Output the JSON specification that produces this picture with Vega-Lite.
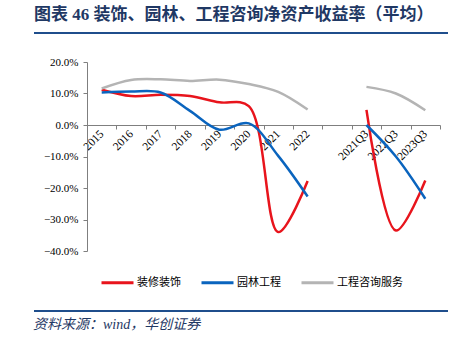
{
  "$schema": "https://vega.github.io/schema/vega-lite/v6.json",
  "padding": {"top": 6, "left": 29, "right": 8, "bottom": 2},
  "background": "white",
  "title": {"text": "图表 46 装饰、园林、工程咨询净资产收益率（平均）", "anchor": "start", "frame": "group", "fontSize": 17, "fontWeight": "bold", "color": "#1F3864", "font": "Liberation Serif, Noto Sans CJK SC", "offset": 8},
  "bounds": "flush",
  "spacing": 29,
  "config": {"view": {"stroke": null}},
  "vconcat": [
    {
      "width": 414, "height": 1,
      "data": {"values": [{"v": 0}]},
      "mark": {"type": "rule", "color": "#1F4E8C", "strokeWidth": 2},
      "encoding": {"y": {"field": "v", "type": "quantitative", "scale": {"domain": [0, 1]}, "axis": null}}
    },
    {
      "width": 414, "height": 189,
      "data": {"values": [
        {"period": "2015", "series": "装修装饰", "seg": "A", "value": 11.2},
        {"period": "2016", "series": "装修装饰", "seg": "A", "value": 9.2},
        {"period": "2017", "series": "装修装饰", "seg": "A", "value": 9.6},
        {"period": "2018", "series": "装修装饰", "seg": "A", "value": 9.2},
        {"period": "2019", "series": "装修装饰", "seg": "A", "value": 7.2},
        {"period": "2020", "series": "装修装饰", "seg": "A", "value": 6.0},
        {"period": "2021", "series": "装修装饰", "seg": "A", "value": -34.0},
        {"period": "2022", "series": "装修装饰", "seg": "A", "value": -17.8},
        {"period": "2021Q3", "series": "装修装饰", "seg": "Q", "value": 4.8},
        {"period": "2022Q3", "series": "装修装饰", "seg": "Q", "value": -33.5},
        {"period": "2023Q3", "series": "装修装饰", "seg": "Q", "value": -17.6},
        {"period": "2015", "series": "园林工程", "seg": "A", "value": 10.3},
        {"period": "2016", "series": "园林工程", "seg": "A", "value": 10.6},
        {"period": "2017", "series": "园林工程", "seg": "A", "value": 10.3},
        {"period": "2018", "series": "园林工程", "seg": "A", "value": 4.5},
        {"period": "2019", "series": "园林工程", "seg": "A", "value": -1.5},
        {"period": "2020", "series": "园林工程", "seg": "A", "value": 0.5},
        {"period": "2021", "series": "园林工程", "seg": "A", "value": -9.8},
        {"period": "2022", "series": "园林工程", "seg": "A", "value": -22.7},
        {"period": "2021Q3", "series": "园林工程", "seg": "Q", "value": 0.0},
        {"period": "2022Q3", "series": "园林工程", "seg": "Q", "value": -10.0},
        {"period": "2023Q3", "series": "园林工程", "seg": "Q", "value": -23.4},
        {"period": "2015", "series": "工程咨询服务", "seg": "A", "value": 11.6},
        {"period": "2016", "series": "工程咨询服务", "seg": "A", "value": 14.3},
        {"period": "2017", "series": "工程咨询服务", "seg": "A", "value": 14.5},
        {"period": "2018", "series": "工程咨询服务", "seg": "A", "value": 14.0},
        {"period": "2019", "series": "工程咨询服务", "seg": "A", "value": 14.4},
        {"period": "2020", "series": "工程咨询服务", "seg": "A", "value": 13.0},
        {"period": "2021", "series": "工程咨询服务", "seg": "A", "value": 10.5},
        {"period": "2022", "series": "工程咨询服务", "seg": "A", "value": 4.9},
        {"period": "2021Q3", "series": "工程咨询服务", "seg": "Q", "value": 12.1},
        {"period": "2022Q3", "series": "工程咨询服务", "seg": "Q", "value": 10.0},
        {"period": "2023Q3", "series": "工程咨询服务", "seg": "Q", "value": 4.7}
      ]},
      "mark": {"type": "line", "interpolate": "catmull-rom", "strokeWidth": 2.5},
      "encoding": {
        "x": {
          "field": "period", "type": "nominal", "bandPosition": 0.5,
          "scale": {"type": "band", "domain": ["2015", "2016", "2017", "2018", "2019", "2020", "2021", "2022", " ", "2021Q3", "2022Q3", "2023Q3"], "range": [53, 406], "paddingInner": 0, "paddingOuter": 0},
          "axis": {"title": null, "offset": -126, "labelAngle": -45, "labelAlign": "right", "labelBaseline": "middle", "tickBand": "extent", "labelFont": "Liberation Serif", "labelFontSize": 11.5, "labelColor": "#000000", "domainColor": "#7F7F7F", "tickColor": "#7F7F7F", "tickSize": 4, "labelPadding": 3, "grid": false}
        },
        "y": {
          "field": "value", "type": "quantitative",
          "scale": {"domain": [-40, 20], "nice": false},
          "axis": {"title": null, "offset": -53, "values": [-40, -30, -20, -10, 0, 10, 20], "labelExpr": "format(datum.value, '.1f') + '%'", "labelFont": "Liberation Serif", "labelFontSize": 11, "labelColor": "#000000", "domainColor": "#7F7F7F", "tickColor": "#7F7F7F", "tickSize": 4, "labelPadding": 5, "grid": false}
        },
        "color": {
          "field": "series", "type": "nominal",
          "scale": {"domain": ["装修装饰", "园林工程", "工程咨询服务"], "range": ["#E8141C", "#0A64BE", "#B4B4B4"]},
          "legend": {"title": null, "orient": "none", "legendX": 66, "legendY": 233, "direction": "horizontal", "symbolSize": 1024, "symbolStrokeWidth": 3, "labelFont": "Noto Sans CJK SC", "labelFontSize": 11, "labelColor": "#000000", "columnPadding": 14, "labelOffset": 2}
        },
        "detail": {"field": "seg", "type": "nominal"}
      }
    },
    {
      "width": 414, "height": 31,
      "data": {"values": [{"v": 0}]},
      "mark": {"type": "rule", "color": "#1F4E8C", "strokeWidth": 2},
      "encoding": {"y": {"field": "v", "type": "quantitative", "scale": {"domain": [0, 1]}, "axis": null}},
      "title": {"text": "资料来源：wind，华创证券", "orient": "bottom", "anchor": "start", "fontSize": 14, "fontStyle": "italic", "fontWeight": "normal", "color": "#1F3864", "font": "Liberation Serif, Noto Sans CJK SC", "offset": 6}
    }
  ]
}
